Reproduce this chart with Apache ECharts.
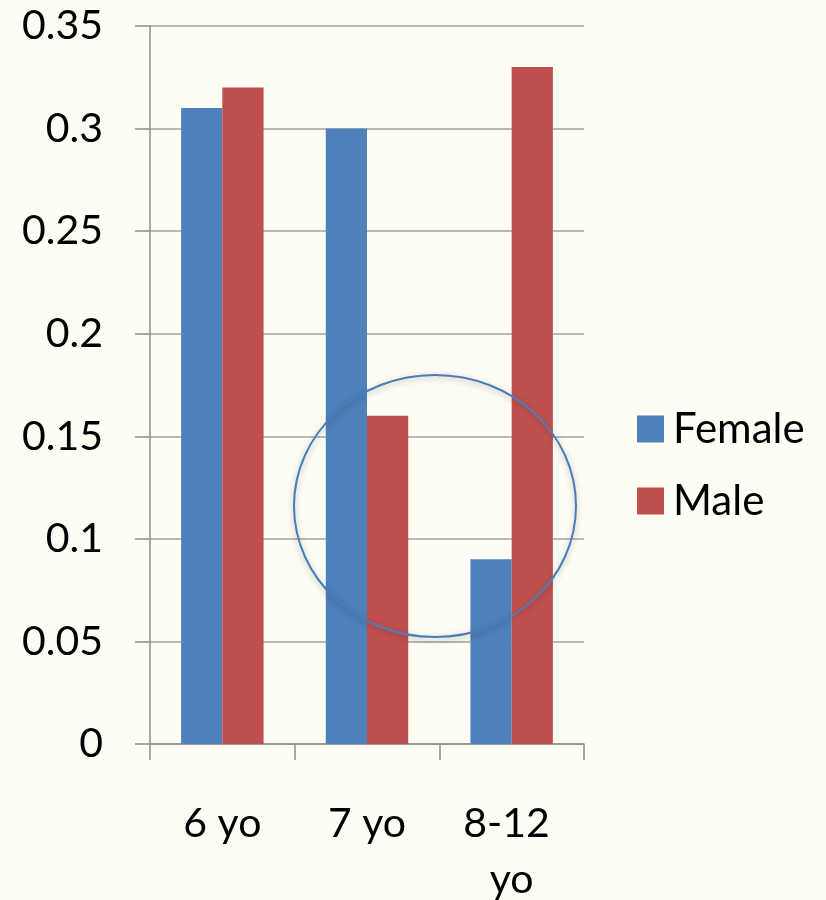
<!DOCTYPE html>
<html lang="en">

<head>
    <meta charset="UTF-8">
    <title>Female vs Male</title>
    <script src="https://cdn.jsdelivr.net/npm/echarts@6/dist/echarts.min.js"></script>
    <style>
        html, body { margin: 0; padding: 0; background: #fdfdf3; }
        #main { width: 826px; height: 900px; }
    </style>
</head>

<body>
    <div id="main"></div>
    <script>
        var categories = ['6 yo', '7 yo', '8-12 yo'];
        var female = [0.31, 0.30, 0.09];
        var male = [0.32, 0.16, 0.33];
        var yTicks = { min: 0, max: 0.35, interval: 0.05 };

        var chart = echarts.init(document.getElementById('main'));
        var font = 'Lato';

        chart.setOption({
            backgroundColor: '#fdfdf3',
            animation: false,
            grid: { left: 150, right: 242, top: 26, bottom: 156, containLabel: false, outerBoundsMode: 'none' },
            legend: {
                orient: 'vertical',
                left: 632,
                top: 403,
                itemWidth: 27,
                itemHeight: 27,
                itemGap: 30,
                icon: 'rect',
                textStyle: { fontFamily: font, fontSize: 42, color: '#000', lineHeight: 42, padding: [0, 0, 0, 4] },
                data: ['Female', 'Male']
            },
            xAxis: {
                type: 'category',
                data: categories,
                axisLine: { lineStyle: { color: '#8c8c8c', width: 1.5 } },
                axisTick: { show: true, interval: 0, length: 16, lineStyle: { color: '#8c8c8c', width: 1.5 } },
                axisLabel: {
                    interval: 0,
                    fontFamily: font, fontSize: 41, color: '#000', margin: 52,
                    lineHeight: 56, width: 120, overflow: 'break'
                }
            },
            yAxis: {
                type: 'value',
                min: yTicks.min,
                max: yTicks.max,
                interval: yTicks.interval,
                axisLine: { show: true, lineStyle: { color: '#8c8c8c', width: 1.5 } },
                axisTick: { show: true, length: 15, lineStyle: { color: '#8c8c8c', width: 1.5 } },
                splitLine: { lineStyle: { color: '#a0a0a0', width: 1.5 } },
                axisLabel: { fontFamily: font, fontSize: 41, color: '#000', margin: 47 }
            },
            series: [
                {
                    name: 'Female', type: 'bar', data: female,
                    barGap: '0%', barCategoryGap: '43%',
                    itemStyle: { color: '#4f81bd' }
                },
                {
                    name: 'Male', type: 'bar', data: male,
                    barGap: '0%', barCategoryGap: '43%',
                    itemStyle: { color: '#c0504d' }
                }
            ],
            graphic: [{
                type: 'ellipse',
                shape: { cx: 435, cy: 506, rx: 141, ry: 131 },
                z: 100,
                style: {
                    fill: 'none',
                    stroke: '#4a7ebb',
                    lineWidth: 2,
                    shadowBlur: 6,
                    shadowColor: 'rgba(0,0,0,0.3)',
                    shadowOffsetY: 2
                }
            }]
        });
    </script>
</body>

</html>
